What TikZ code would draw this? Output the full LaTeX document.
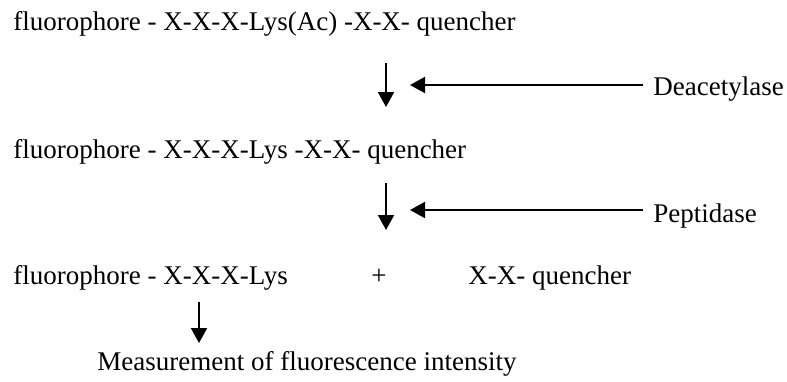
\documentclass[tikz,border=0pt]{standalone}
\usepackage{fontspec}
\setmainfont{Liberation Serif}
\usepackage{tikz}
\usetikzlibrary{arrows.meta,calc,positioning}

\tikzset{
  step text/.style={anchor=base west,inner sep=0pt,font=\fontsize{13.5}{16}\selectfont},
  enzyme/.style={step text,inner xsep=5pt},
  flow/.style={line width=1pt,-{Triangle[length=7.5pt,width=8pt]}}
}

\begin{document}
\begin{tikzpicture}[x=0.5pt,y=-0.5pt]
\useasboundingbox (0,0) rectangle (787,381);

\node[step text] (substrate) at (13,30) {fluorophore - X-X-X-Lys(Ac) -X-X- quencher};
\node[step text] (deacetyl) at (13,158) {fluorophore - X-X-X-Lys -X-X- quencher};
\node[step text] (cleaved) at (13,284) {fluorophore - X-X-X-Lys};
\node[step text,anchor=base] (plus) at (379,284) {+};
\node[step text] (quencher) at (468,284) {X-X- quencher};
\node[step text] (readout) at (97,370) {Measurement of fluorescence intensity};

\node[enzyme] (deacetylase) at (643,95) {Deacetylase};
\node[enzyme] (peptidase) at (643,222) {Peptidase};

% reaction arrows
\coordinate (r1a) at (386,63);  \coordinate (r1b) at (386,107);
\coordinate (r2a) at (386,183); \coordinate (r2b) at (386,230);
\coordinate (r3a) at (199,302); \coordinate (r3b) at (199,343);
\draw[flow] (r1a) -- (r1b);
\draw[flow] (r2a) -- (r2b);
\draw[flow] (r3a) -- (r3b);

% enzymes
\coordinate (e1) at (410,85);
\coordinate (e2) at (410,210);
\draw[flow] (deacetylase.west |- e1) -- (e1);
\draw[flow] (peptidase.west |- e2) -- (e2);

\end{tikzpicture}
\end{document}
